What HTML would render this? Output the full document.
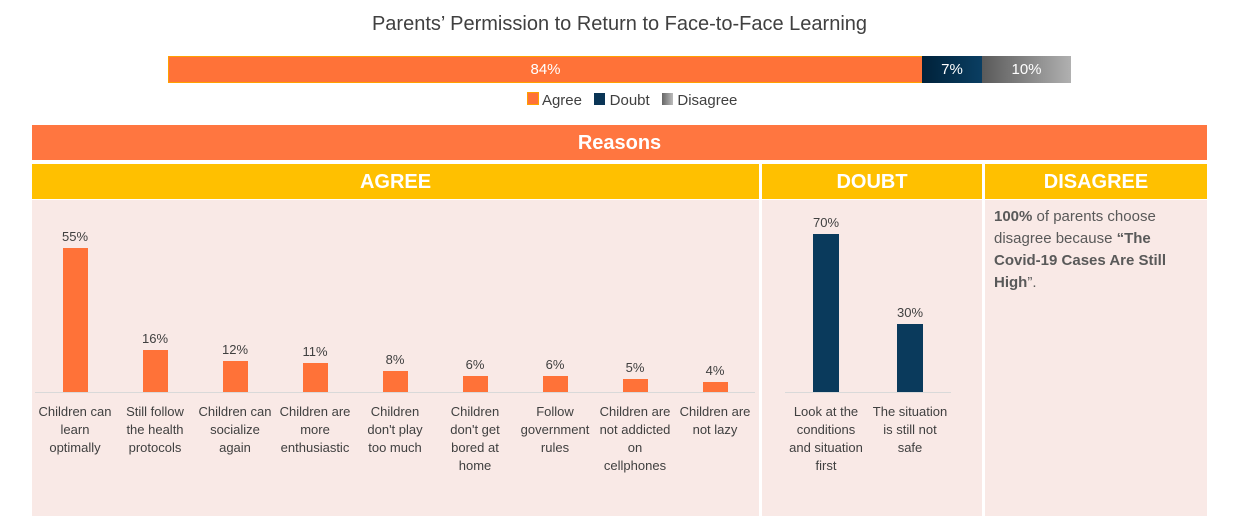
<!DOCTYPE html><html><head><style>
body{margin:0;width:1239px;height:522px;background:#fff;font-family:"Liberation Sans",sans-serif;position:relative;overflow:hidden}
.a{position:absolute}
.lbl{position:absolute;width:90px;text-align:center;font-size:13px;color:#404040;line-height:18px}
.val{position:absolute;width:60px;text-align:center;font-size:13px;color:#404040}
</style></head><body>
<div class="a" style="left:0;top:13px;width:1239px;text-align:center;font-size:20px;color:#404040">Parents’ Permission to Return to Face-to-Face Learning</div>
<div class="a" style="left:168px;top:56px;width:753px;height:25px;background:#ff7238;border:1px solid #ffa000;color:#fff;font-size:15px;text-align:center;line-height:25px">84%</div>
<div class="a" style="left:922px;top:56px;width:60px;height:27px;background:linear-gradient(90deg,#00223a,#0a3e62);color:#fff;font-size:15px;text-align:center;line-height:27px">7%</div>
<div class="a" style="left:982px;top:56px;width:89px;height:27px;background:linear-gradient(90deg,#5a5a5a,#b0b0b0);color:#fff;font-size:15px;text-align:center;line-height:27px">10%</div>
<div class="a" style="left:352px;top:92px;width:560px;text-align:center;font-size:15px;color:#404040">
<span style="display:inline-block;width:10px;height:11px;background:#ff7238;border:1px solid #ffa000"></span> Agree &nbsp;
<span style="display:inline-block;width:11px;height:12px;background:#0a3556"></span> Doubt &nbsp;
<span style="display:inline-block;width:11px;height:12px;background:linear-gradient(90deg,#666,#bbb)"></span> Disagree</div>
<div class="a" style="left:32px;top:125px;width:1175px;height:35px;background:#ff7640;color:#fff;font-weight:bold;font-size:20px;text-align:center;line-height:37px">Reasons</div>
<div class="a" style="left:32px;top:164px;width:727px;height:35px;background:#ffc000;color:#fff;font-weight:bold;font-size:20px;text-align:center;line-height:37px">AGREE</div>
<div class="a" style="left:762px;top:164px;width:220px;height:35px;background:#ffc000;color:#fff;font-weight:bold;font-size:20px;text-align:center;line-height:37px">DOUBT</div>
<div class="a" style="left:985px;top:164px;width:222px;height:35px;background:#ffc000;color:#fff;font-weight:bold;font-size:20px;text-align:center;line-height:37px">DISAGREE</div>
<div class="a" style="left:32px;top:200px;width:727px;height:316px;background:#f9e9e6"></div>
<div class="a" style="left:762px;top:200px;width:220px;height:316px;background:#f9e9e6"></div>
<div class="a" style="left:985px;top:200px;width:222px;height:316px;background:#f9e9e6"></div>
<div class="a" style="left:35px;top:392px;width:720px;height:1px;background:#d9d9d9"></div>
<div class="a" style="left:785px;top:392px;width:166px;height:1px;background:#d9d9d9"></div>
<div class="a" style="left:994px;top:206px;width:200px;font-size:15px;line-height:22px;color:#595959"><b>100%</b> of parents choose disagree because <b>“The Covid-19 Cases Are Still High</b>”.</div>
<div id="c"></div>
<script>
var d=[[55,"Children can<br>learn<br>optimally"],[16,"Still follow<br>the health<br>protocols"],[12,"Children can<br>socialize<br>again"],[11,"Children are<br>more<br>enthusiastic"],[8,"Children<br>don't play<br>too much"],[6,"Children<br>don't get<br>bored at<br>home"],[6,"Follow<br>government<br>rules"],[5,"Children are<br>not addicted<br>on<br>cellphones"],[4,"Children are<br>not lazy"]];
var h="";
d.forEach(function(e,i){var cx=75+80*i,bh=e[0]*2.62;
h+='<div class="a" style="left:'+(cx-12)+'px;top:'+(392-bh)+'px;width:25px;height:'+bh+'px;background:#ff7238"></div>';
h+='<div class="val" style="left:'+(cx-30)+'px;top:'+(392-bh-19)+'px">'+e[0]+'%</div>';
h+='<div class="lbl" style="left:'+(cx-45)+'px;top:403px">'+e[1]+'</div>';});
[[70,826,"Look at the<br>conditions<br>and situation<br>first"],[30,910,"The situation<br>is still not<br>safe"]].forEach(function(e){var bh=e[0]*2.26,cx=e[1];
h+='<div class="a" style="left:'+(cx-13)+'px;top:'+(392-bh)+'px;width:26px;height:'+bh+'px;background:#0a3a5c"></div>';
h+='<div class="val" style="left:'+(cx-30)+'px;top:'+(392-bh-19)+'px">'+e[0]+'%</div>';
h+='<div class="lbl" style="left:'+(cx-45)+'px;top:403px">'+e[2]+'</div>';});
document.getElementById("c").innerHTML=h;
</script>
</body></html>
